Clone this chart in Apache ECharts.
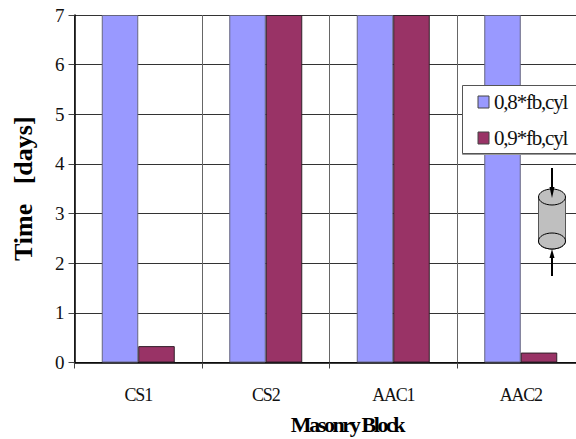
<!DOCTYPE html>
<html>
<head>
<meta charset="utf-8">
<style>
html,body{margin:0;padding:0;background:#fff;overflow:hidden}
</style>
<script src="https://cdn.jsdelivr.net/npm/echarts@6/dist/echarts.min.js"></script>
</head>
<body>
<div id="main" style="width:576px;height:439px"></div>
<script>
const categories = ['CS1', 'CS2', 'AAC1', 'AAC2'];
const series08 = [7, 7, 7, 7];
const series09 = [0.33, 7, 7, 0.2];
const yTicks = [0, 1, 2, 3, 4, 5, 6, 7];
const legendNames = ['0,8*fb,cyl', '0,9*fb,cyl'];
const xTitle = 'Masonry Block';
const yTitle = 'Time   [days]';
const serif = '"Liberation Serif"';

const myChart = echarts.init(document.getElementById('main'), null, {renderer: 'svg'});
myChart.setOption({
  animation: false,
  grid: {left: 74.5, right: -8.5, top: 15, bottom: 76.5, outerBoundsMode: 'none'},
  legend: {
    left: 462.5, top: 85.5, orient: 'vertical', icon: 'rect',
    padding: [6, 10, 5, 15], itemGap: 15, itemWidth: 11, itemHeight: 12,
    backgroundColor: '#fff', borderColor: '#555', borderWidth: 1,
    shadowColor: '#999', shadowBlur: 0, shadowOffsetY: 1,
    textStyle: {fontFamily: serif, fontSize: 21, color: '#111'},
    itemStyle: {borderColor: '#444', borderWidth: 1},
    data: legendNames
  },
  xAxis: {
    type: 'category', data: categories,
    name: xTitle, nameLocation: 'center', nameGap: 51,
    nameTextStyle: {fontFamily: serif, fontSize: 22, fontWeight: 'bold', color: '#000', padding: [0, 0, 0, 35]},
    axisLine: {lineStyle: {color: '#000', width: 1.5}},
    axisTick: {show: true, length: 6, lineStyle: {color: '#444'}},
    axisLabel: {fontFamily: serif, fontSize: 18, color: '#111', margin: 23},
    splitLine: {show: true, lineStyle: {color: '#666', width: 1}}
  },
  yAxis: {
    type: 'value', min: 0, max: yTicks[yTicks.length - 1], interval: 1,
    name: yTitle, nameLocation: 'center', nameGap: 38, nameRotate: 90,
    nameTextStyle: {fontFamily: serif, fontSize: 26, fontWeight: 'bold', color: '#000'},
    axisLine: {show: true, lineStyle: {color: '#000', width: 1.5}},
    axisTick: {show: true, length: 6, lineStyle: {color: '#444'}},
    axisLabel: {fontFamily: serif, fontSize: 19, color: '#111', margin: 10},
    splitLine: {show: true, lineStyle: {color: '#333', width: 1}}
  },
  series: [
    {
      name: legendNames[0], type: 'bar', data: series08, barWidth: 36.5, barGap: 0, z: 2,
      itemStyle: {color: '#9999ff', borderColor: '#666680', borderWidth: 1}
    },
    {
      name: legendNames[1], type: 'bar', data: series09, barWidth: 36.5, barGap: 0, z: 2,
      itemStyle: {color: '#993366', borderColor: '#30202a', borderWidth: 1}
    }
  ],
  graphic: [
    {type: 'line', z: 100, shape: {x1: 552, y1: 168, x2: 552, y2: 190}, style: {stroke: '#000', lineWidth: 2}},
    {type: 'polygon', z: 103, shape: {points: [[552, 198], [549.5, 187], [554.5, 187]]}, style: {fill: '#000'}},
    {type: 'line', z: 100, shape: {x1: 552, y1: 276, x2: 552, y2: 255}, style: {stroke: '#000', lineWidth: 2}},
    {type: 'polygon', z: 103, shape: {points: [[552, 249], [549.5, 258], [554.5, 258]]}, style: {fill: '#000'}},
    {type: 'ellipse', z: 100, shape: {cx: 552, cy: 241, rx: 13.5, ry: 8}, style: {fill: '#bfbfbf', stroke: '#000', lineWidth: 1}},
    {type: 'rect', z: 101, shape: {x: 538.5, y: 197, width: 27, height: 44}, style: {fill: '#bfbfbf', stroke: null}},
    {type: 'line', z: 101, shape: {x1: 538.5, y1: 197, x2: 538.5, y2: 241}, style: {stroke: '#555', lineWidth: 1}},
    {type: 'line', z: 101, shape: {x1: 565.5, y1: 197, x2: 565.5, y2: 241}, style: {stroke: '#555', lineWidth: 1}},
    {type: 'ellipse', z: 102, shape: {cx: 552, cy: 197, rx: 13.5, ry: 8}, style: {fill: '#bfbfbf', stroke: '#000', lineWidth: 1}},
    {type: 'ellipse', z: 101, shape: {cx: 552, cy: 241, rx: 13.5, ry: 8}, style: {fill: '#bfbfbf', stroke: '#000', lineWidth: 1}}
  ]
});

// the original text is set very tight, only the svg renderer lets us do that
document.querySelectorAll('#main text').forEach(t => {
  const s = t.textContent;
  if (s === xTitle) t.style.letterSpacing = '-2.4px';
  else if (legendNames.includes(s)) t.style.letterSpacing = '-1.2px';
  else if (categories.includes(s)) t.style.letterSpacing = '-1.2px';
});
</script>
</body>
</html>
